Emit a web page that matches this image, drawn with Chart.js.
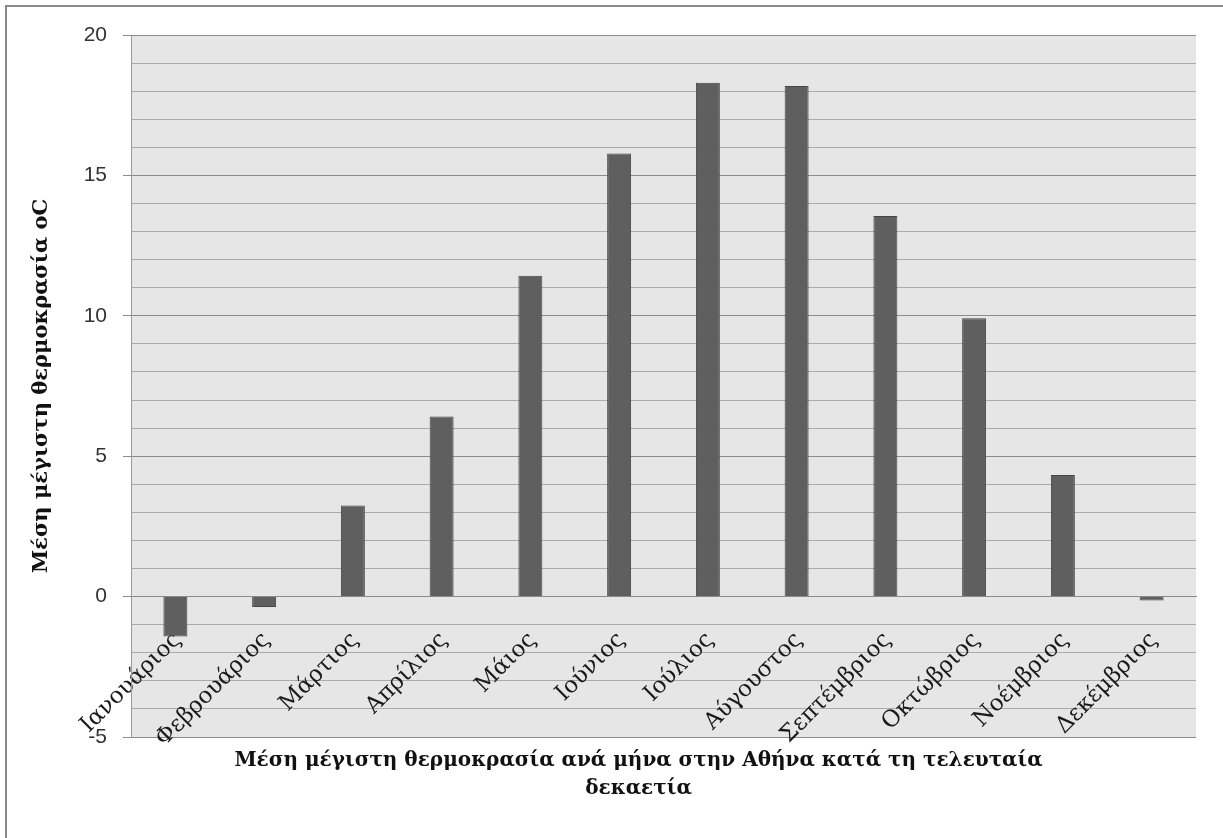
<!DOCTYPE html>
<html>
<head>
<meta charset="utf-8">
<script src="https://cdn.jsdelivr.net/npm/chart.js@4.4.1/dist/chart.umd.min.js"></script>
<style>
  html, body { margin: 0; padding: 0; background: #fff; overflow: hidden; }
  #wrap { position: relative; width: 1223px; height: 838px; }
  #frame { position: absolute; left: 5px; top: 5px; right: -10px; bottom: -10px;
           border-left: 2px solid #8a8a8a; border-top: 2px solid #8a8a8a; }
  canvas { position: absolute; left: 0; top: 0; }
</style>
</head>
<body>
<div id="wrap">
  <div id="frame"></div>
  <canvas id="myChart" width="1223" height="838"></canvas>
</div>
<script>
const months = ['Ιανουάριος', 'Φεβρουάριος', 'Μάρτιος', 'Απρίλιος', 'Μάιος', 'Ιούνιος',
                'Ιούλιος', 'Αύγουστος', 'Σεπτέμβριος', 'Οκτώβριος', 'Νοέμβριος', 'Δεκέμβριος'];
const maxTemp = [-1.42, -0.37, 3.24, 6.41, 11.43, 15.78, 18.30, 18.18, 13.55, 9.91, 4.33, -0.14];
const yTicks = [-5, 0, 5, 10, 15, 20];
const yTitle = 'Μέση μέγιστη θερμοκρασία oC';
const caption = ['Μέση μέγιστη θερμοκρασία ανά μήνα στην Αθήνα κατά τη τελευταία', 'δεκαετία'];

// grey plot background + caption under the plot
const plotBox = {
  id: 'plotBox',
  beforeDraw(chart) {
    const { ctx, chartArea: a } = chart;
    ctx.save();
    ctx.fillStyle = '#e6e6e6';
    ctx.fillRect(a.left, a.top, a.right - a.left, a.bottom - a.top);
    ctx.restore();
  },
  afterDraw(chart) {
    const { ctx, chartArea: a } = chart;
    ctx.save();
    ctx.fillStyle = '#111';
    ctx.font = 'bold 20px "DejaVu Serif"';
    ctx.textAlign = 'center';
    ctx.textBaseline = 'middle';
    const cx = (a.left + a.right) / 2 - 25;
    caption.forEach((line, i) => ctx.fillText(line, cx, a.bottom + 24 + i * 28));
    ctx.restore();
  }
};

new Chart(document.getElementById('myChart'), {
  type: 'bar',
  data: {
    labels: months,
    datasets: [{
      data: maxTemp,
      backgroundColor: '#5f5f5f',
      borderColor: '#454545',
      borderWidth: 1,
      categoryPercentage: 1,
      barPercentage: 0.27
    }]
  },
  options: {
    responsive: false,
    animation: false,
    layout: { padding: { top: 35, right: 27, bottom: 101, left: 0 } },
    plugins: { legend: { display: false }, tooltip: { enabled: false } },
    scales: {
      x: {
        position: { y: 0 },
        // invisible tick marks push the month names below the zero line
        grid: { display: false, drawTicks: true, tickLength: 27, tickColor: 'rgba(0,0,0,0)' },
        border: { color: '#8a8a8a', width: 1 },
        ticks: {
          minRotation: 45,
          maxRotation: 45,
          autoSkip: false,
          labelOffset: 2,
          color: '#1a1a1a',
          font: { family: '"DejaVu Serif"', size: 23 }
        },
        afterFit(scale) { scale.height = 0; }
      },
      y: {
        min: -5,
        max: 20,
        afterFit(scale) { scale.width = 131; },
        afterBuildTicks(scale) {
          scale.ticks = [];
          for (let v = -5; v <= 20; v++) scale.ticks.push({ value: v });
        },
        grid: {
          color: ctx => yTicks.includes(ctx.tick.value) ? '#8c8c8c' : '#ababab',
          tickColor: ctx => yTicks.includes(ctx.tick.value) ? '#8c8c8c' : 'rgba(0,0,0,0)',
          tickLength: 8,
          lineWidth: 1
        },
        border: { color: '#9a9a9a', width: 1 },
        ticks: {
          autoSkip: false,
          padding: 16,
          color: '#333',
          font: { family: '"Liberation Sans"', size: 21 },
          callback: v => yTicks.includes(v) ? v : ''
        },
        title: {
          display: true,
          text: yTitle,
          color: '#111',
          font: { family: '"DejaVu Serif"', size: 21, weight: 'bold' },
          padding: { top: 29, bottom: 0 }
        }
      }
    }
  },
  plugins: [plotBox]
});
</script>
</body>
</html>
